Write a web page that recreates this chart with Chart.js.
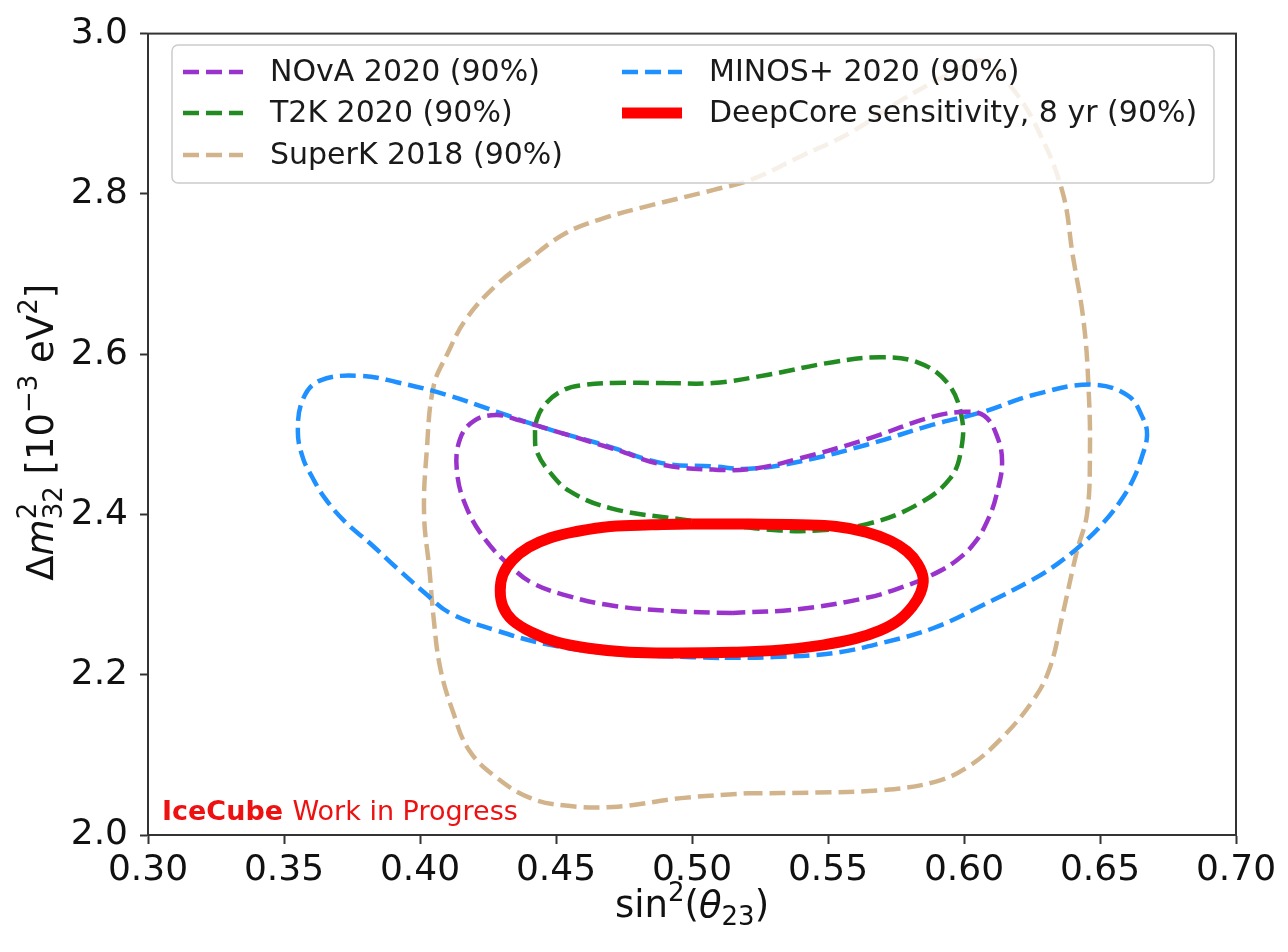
<!DOCTYPE html>
<html>
<head>
<meta charset="utf-8">
<script src="https://cdn.jsdelivr.net/npm/chart.js@4.4.0/dist/chart.umd.min.js"></script>
<style>
  html, body { margin: 0; padding: 0; background: #fff; }
  canvas { display: block; }
</style>
</head>
<body>
<canvas id="contours" width="1288" height="952"></canvas>
<script>
// series names, in legend order (column by column)
const labels = [
    "NOvA 2020 (90%)",
    "T2K 2020 (90%)",
    "SuperK 2018 (90%)",
    "MINOS+ 2020 (90%)",
    "DeepCore sensitivity, 8 yr (90%)"
];

// contours (sin^2 theta23, dm^2_32 in 1e-3 eV^2)
const novaX = [0.5150, 0.4956, 0.4710, 0.4526, 0.4410, 0.4340, 0.4246, 0.4173, 0.4136, 0.4147, 0.4200, 0.4283, 0.4370, 0.4467, 0.4710, 0.4893, 0.5077, 0.5224, 0.5397, 0.5643, 0.5886, 0.6010, 0.6075, 0.6120, 0.6140, 0.6120, 0.6090, 0.6040, 0.5970, 0.5880, 0.5770, 0.5643, 0.5397, 0.5150];
const novaY = [2.277, 2.279, 2.286, 2.300, 2.315, 2.333, 2.366, 2.407, 2.453, 2.494, 2.517, 2.524, 2.517, 2.507, 2.482, 2.462, 2.456, 2.457, 2.470, 2.494, 2.522, 2.528, 2.523, 2.499, 2.466, 2.425, 2.395, 2.365, 2.342, 2.324, 2.309, 2.296, 2.282, 2.277];

const t2kX = [0.4900, 0.5077, 0.5275, 0.5518, 0.5690, 0.5827, 0.5937, 0.5990, 0.5990, 0.5949, 0.5827, 0.5643, 0.5460, 0.5324, 0.5150, 0.4956, 0.4710, 0.4550, 0.4467, 0.4430, 0.4423, 0.4430, 0.4467, 0.4526, 0.4588, 0.4710, 0.4900];
const t2kY = [2.564, 2.564, 2.574, 2.590, 2.596, 2.590, 2.565, 2.524, 2.482, 2.445, 2.412, 2.388, 2.380, 2.380, 2.386, 2.394, 2.407, 2.429, 2.457, 2.478, 2.494, 2.519, 2.540, 2.555, 2.561, 2.564, 2.564];

const superkX = [0.5200, 0.5460, 0.5700, 0.5890, 0.6010, 0.6130, 0.6254, 0.6316, 0.6360, 0.6415, 0.6452, 0.6463, 0.6458, 0.6440, 0.6400, 0.6360, 0.6260, 0.6170, 0.6077, 0.5950, 0.5770, 0.5580, 0.5400, 0.5220, 0.5080, 0.4840, 0.4660, 0.4530, 0.4400, 0.4280, 0.4170, 0.4100, 0.4050, 0.4025, 0.4015, 0.4035, 0.4050, 0.4074, 0.4120, 0.4180, 0.4280, 0.4400, 0.4526, 0.4710, 0.4960, 0.5200];
const superkY = [2.052, 2.053, 2.056, 2.066, 2.084, 2.118, 2.168, 2.209, 2.271, 2.354, 2.400, 2.474, 2.557, 2.640, 2.723, 2.805, 2.888, 2.935, 2.966, 2.950, 2.917, 2.876, 2.847, 2.818, 2.805, 2.785, 2.768, 2.750, 2.718, 2.686, 2.644, 2.600, 2.560, 2.480, 2.400, 2.330, 2.271, 2.209, 2.155, 2.106, 2.072, 2.047, 2.037, 2.035, 2.046, 2.052];

const minosX = [0.5100, 0.4900, 0.4710, 0.4467, 0.4283, 0.4110, 0.4018, 0.3915, 0.3816, 0.3724, 0.3651, 0.3603, 0.3570, 0.3551, 0.3570, 0.3632, 0.3780, 0.3915, 0.4100, 0.4283, 0.4467, 0.4693, 0.4890, 0.5077, 0.5210, 0.5397, 0.5643, 0.5886, 0.6070, 0.6254, 0.6463, 0.6600, 0.6658, 0.6673, 0.6654, 0.6621, 0.6574, 0.6511, 0.6434, 0.6346, 0.6254, 0.6070, 0.5886, 0.5702, 0.5518, 0.5300, 0.5100];
const minosY = [2.221, 2.223, 2.226, 2.238, 2.255, 2.277, 2.302, 2.333, 2.364, 2.391, 2.420, 2.447, 2.470, 2.503, 2.544, 2.567, 2.573, 2.565, 2.549, 2.528, 2.507, 2.485, 2.464, 2.460, 2.457, 2.466, 2.487, 2.512, 2.528, 2.549, 2.562, 2.549, 2.520, 2.499, 2.472, 2.443, 2.416, 2.389, 2.363, 2.339, 2.319, 2.287, 2.258, 2.240, 2.227, 2.222, 2.221];

const deepcoreX = [0.5000, 0.5200, 0.5400, 0.5530, 0.5640, 0.5730, 0.5790, 0.5830, 0.5850, 0.5840, 0.5810, 0.5760, 0.5690, 0.5600, 0.5480, 0.5330, 0.5150, 0.4950, 0.4770, 0.4620, 0.4500, 0.4410, 0.4340, 0.4305, 0.4295, 0.4305, 0.4340, 0.4400, 0.4480, 0.4580, 0.4700, 0.4850, 0.5000];
const deepcoreY = [2.388, 2.388, 2.387, 2.385, 2.378, 2.367, 2.354, 2.338, 2.320, 2.302, 2.285, 2.268, 2.255, 2.245, 2.237, 2.231, 2.228, 2.227, 2.228, 2.233, 2.241, 2.253, 2.268, 2.285, 2.305, 2.325, 2.343, 2.359, 2.371, 2.379, 2.385, 2.387, 2.388];

// axis ticks
const xTicks = [0.30, 0.35, 0.40, 0.45, 0.50, 0.55, 0.60, 0.65, 0.70];
const yTicks = [2.0, 2.2, 2.4, 2.6, 2.8, 3.0];

const FONT = "'DejaVu Sans', sans-serif";

const toPoints = (xs, ys) => xs.map((x, i) => ({ x: x, y: ys[i] }));

const contour = (label, xs, ys, color, width, dash, order) => ({
    label: label,
    data: toPoints(xs, ys),
    showLine: true,
    borderColor: color,
    borderWidth: width,
    borderDash: dash,
    pointRadius: 0,
    tension: 0.4,
    fill: false,
    order: order
});

// box around plot + inside legend + axis titles + watermark
const decorations = {
    id: "decorations",
    afterDatasetsDraw(chart) {
        const ctx = chart.ctx;
        const ds = chart.data.datasets;

        // legend
        ctx.save();
        ctx.beginPath();
        ctx.roundRect(172, 45, 1042, 138, 6);
        ctx.fillStyle = "rgba(255,255,255,0.8)";
        ctx.fill();
        ctx.strokeStyle = "#cccccc";
        ctx.lineWidth = 1.5;
        ctx.stroke();

        const slots = [
            [183, 72], [183, 113], [183, 155],
            [622, 72], [622, 113]
        ];
        ds.forEach((d, i) => {
            const [lx, ly] = slots[i];
            ctx.beginPath();
            ctx.setLineDash(d.borderDash);
            ctx.strokeStyle = d.borderColor;
            ctx.lineWidth = d.borderWidth;
            ctx.moveTo(lx, ly);
            ctx.lineTo(lx + 60, ly);
            ctx.stroke();
            ctx.setLineDash([]);
            ctx.fillStyle = "#1a1a1a";
            ctx.font = "30px " + FONT;
            ctx.textBaseline = "middle";
            ctx.textAlign = "left";
            ctx.fillText(d.label, lx + 87, ly + 1);
        });
        ctx.restore();
    },
    afterDraw(chart) {
        const ctx = chart.ctx;
        const a = chart.chartArea;
        ctx.save();
        ctx.strokeStyle = "#333";
        ctx.lineWidth = 2;
        ctx.strokeRect(a.left, a.top, a.right - a.left, a.bottom - a.top);

        // watermark
        ctx.textBaseline = "alphabetic";
        ctx.textAlign = "left";
        ctx.fillStyle = "#ee1111";
        ctx.font = "bold 27px " + FONT;
        ctx.fillText("IceCube", 162, 820);
        const w = ctx.measureText("IceCube ").width;
        ctx.font = "27px " + FONT;
        ctx.fillText("Work in Progress", 162 + w, 820);

        // rich text: parts of [text, style, size, shift, stackWithPrev]
        const drawRich = (parts, cx, baseY) => {
            let total = 0;
            const widths = parts.map(p => {
                ctx.font = p[1] + " " + p[2] + "px " + FONT;
                return ctx.measureText(p[0]).width;
            });
            parts.forEach((p, i) => {
                if (p[4]) { total += Math.max(0, widths[i] - widths[i - 1]); }
                else { total += widths[i]; }
            });
            let x = cx - total / 2;
            let lastX = x;
            parts.forEach((p, i) => {
                ctx.font = p[1] + " " + p[2] + "px " + FONT;
                if (p[4]) {
                    ctx.fillText(p[0], lastX, baseY + p[3]);
                    x = Math.max(x, lastX + widths[i]);
                } else {
                    lastX = x;
                    ctx.fillText(p[0], x, baseY + p[3]);
                    x += widths[i];
                }
            });
        };

        ctx.fillStyle = "#111";
        // x title
        drawRich([
            ["sin", "normal", 37, 0],
            ["2", "normal", 26, -16],
            ["(", "normal", 37, 0],
            ["\u03b8", "italic", 37, 0],
            ["23", "normal", 26, 8],
            [")", "normal", 37, 0]
        ], (a.left + a.right) / 2, 917);

        // y title
        ctx.translate(53, (a.top + a.bottom) / 2 - 2);
        ctx.rotate(-Math.PI / 2);
        drawRich([
            ["\u0394", "normal", 37, 0],
            ["m", "italic", 37, 0],
            ["2", "normal", 26, -17],
            ["32", "normal", 26, 9, true],
            [" [10", "normal", 37, 0],
            ["\u22123", "normal", 26, -16],
            [" eV", "normal", 37, 0],
            ["2", "normal", 26, -16],
            ["]", "normal", 37, 0]
        ], 0, 0);
        ctx.restore();
    }
};

new Chart(document.getElementById("contours"), {
    type: "scatter",
    data: {
        datasets: [
            contour(labels[0], novaX, novaY, "#9933cc", 4.5, [16, 7], 1),
            contour(labels[1], t2kX, t2kY, "#228b22", 4.5, [16, 7], 2),
            contour(labels[2], superkX, superkY, "#d2b48c", 4.5, [16, 7], 5),
            contour(labels[3], minosX, minosY, "#1e90ff", 4.5, [16, 7], 3),
            contour(labels[4], deepcoreX, deepcoreY, "#ff0000", 11, [], 0)
        ]
    },
    options: {
        responsive: false,
        animation: false,
        layout: { padding: { top: 30, right: 52, left: 0, bottom: 0 } },
        plugins: {
            legend: { display: false },
            tooltip: { enabled: false }
        },
        scales: {
            x: {
                type: "linear",
                min: 0.30,
                max: 0.70,
                afterBuildTicks: (scale) => { scale.ticks = xTicks.map(v => ({ value: v })); },
                afterFit: (scale) => { scale.height = 117; },
                ticks: {
                    callback: (v) => Number(v).toFixed(2),
                    font: { family: FONT, size: 36 },
                    color: "#111",
                    padding: 5,
                    maxRotation: 0
                },
                grid: { drawOnChartArea: false, tickLength: 9, tickWidth: 2, tickColor: "#333" },
                border: { color: "#333", width: 2 }
            },
            y: {
                type: "linear",
                min: 2.0,
                max: 3.0,
                afterBuildTicks: (scale) => { scale.ticks = yTicks.map(v => ({ value: v })); },
                afterFit: (scale) => { scale.width = 148; },
                ticks: {
                    callback: (v) => Number(v).toFixed(1),
                    font: { family: FONT, size: 36 },
                    color: "#111",
                    padding: 12
                },
                grid: { drawOnChartArea: false, tickLength: 8, tickWidth: 2, tickColor: "#333" },
                border: { color: "#333", width: 2 }
            }
        }
    },
    plugins: [decorations]
});
</script>
</body>
</html>
